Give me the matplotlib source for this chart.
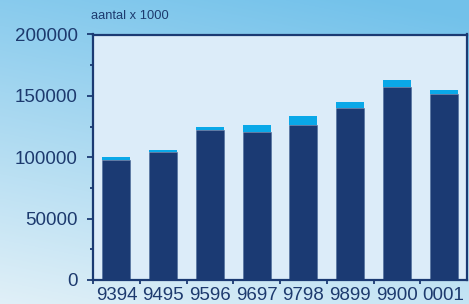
import numpy as np
import matplotlib
matplotlib.use("Agg")
import matplotlib.pyplot as plt
from matplotlib.ticker import MultipleLocator, FixedLocator

# Data
seizoenen = ["9394", "9495", "9596", "9697", "9798", "9899", "9900", "0001"]
basis = [98000, 104000, 122500, 120500, 126500, 140500, 157500, 151300]
extra = [2400, 2100, 1900, 6000, 7100, 4900, 5500, 3800]

donkerblauw = "#1b3a73"
lichtblauw = "#0aa8e8"
tekstkleur = "#1d3a6e"

plt.rcParams["font.family"] = ["Liberation Sans", "DejaVu Sans"]

fig = plt.figure(figsize=(4.69, 3.04), dpi=100)

# Achtergrond: lucht-achtige verloop
bg = fig.add_axes([0, 0, 1, 1], zorder=-10)
yy, xx = np.mgrid[0:1:200j, 0:1:300j]
top = np.array([0.45, 0.76, 0.92])
wit = np.array([0.88, 0.94, 0.97])
mix = np.clip(0.2 + 0.8 * yy - 0.25 * xx, 0, 1)[..., None]
img = top * (1 - mix) + wit * mix
bg.imshow(img, aspect="auto", extent=[0, 1, 0, 1], origin="upper")
bg.set_axis_off()

ax = fig.add_axes([93 / 469, 24 / 304, 374 / 469, 245.5 / 304])
ax.set_facecolor("#dcecf9")

x = np.arange(len(seizoenen))
ax.bar(x, basis, width=0.6, color=donkerblauw, edgecolor="#4a6a9a", linewidth=0.4, zorder=2)
ax.bar(x, extra, width=0.6, bottom=basis, color=lichtblauw, linewidth=0, zorder=2)

ax.set_xlim(-0.5, len(seizoenen) - 0.5)
ax.set_ylim(0, 200000)

ax.yaxis.set_major_locator(MultipleLocator(50000))
ax.yaxis.set_minor_locator(MultipleLocator(25000))
ax.set_xticks(x)
ax.set_xticklabels(seizoenen)
ax.xaxis.set_minor_locator(FixedLocator(np.arange(-0.5, len(seizoenen) - 0.5, 1.0)))

for s in ax.spines.values():
    s.set_color(donkerblauw)
    s.set_linewidth(1.6)

ax.tick_params(axis="y", which="major", direction="out", length=4, width=1.3,
               color=donkerblauw, labelcolor=tekstkleur, labelsize=13.5, pad=7)
ax.tick_params(axis="y", which="minor", direction="out", length=2.5, width=1.3,
               color=donkerblauw)
ax.tick_params(axis="x", which="major", length=0, labelcolor=tekstkleur,
               labelsize=13.5, pad=5)
ax.tick_params(axis="x", which="minor", direction="out", length=3, width=1.3,
               color=donkerblauw)

fig.text(91 / 469, 1 - 16 / 304, "aantal x 1000", color=tekstkleur, fontsize=9.3,
         ha="left", va="center")

fig.savefig("out.png", dpi=100)
